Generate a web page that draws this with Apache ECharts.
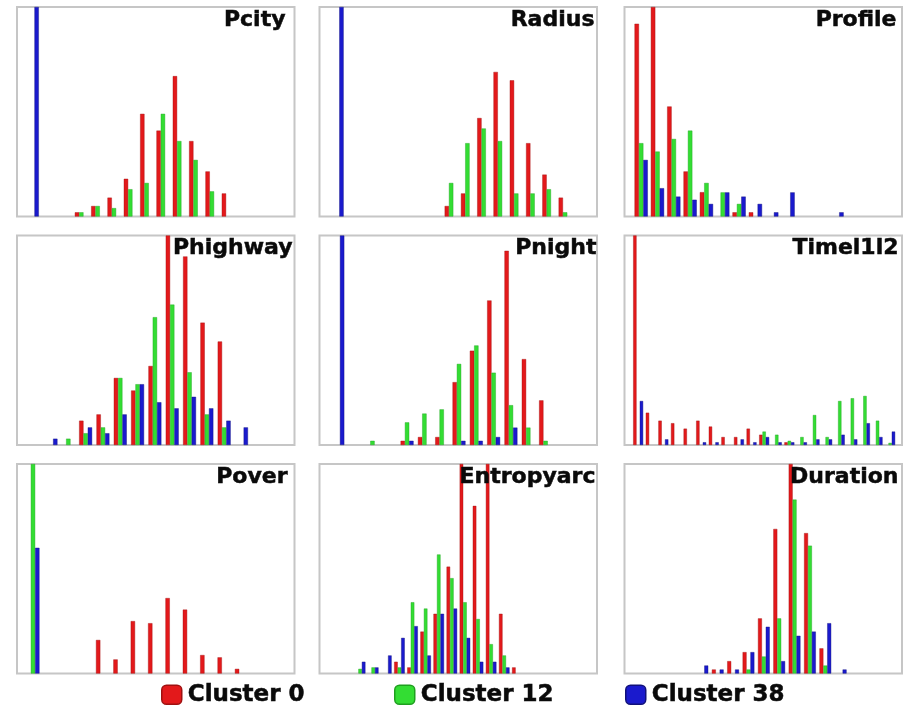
<!DOCTYPE html>
<html><head><meta charset="utf-8">
<script src="https://cdn.jsdelivr.net/npm/echarts@6/dist/echarts.min.js"></script>
<style>html,body{margin:0;padding:0;background:#fff}#c{width:904px;height:706px}</style>
</head><body><div id="c"></div>
<script>
// ---- data: bar heights (% of panel height) per histogram bin ----
const seriesNames = ['Cluster 0', 'Cluster 12', 'Cluster 38'];
const panelTitles = ['Pcity', 'Radius', 'Profile', 'Phighway', 'Pnight', 'Timel1l2', 'Pover', 'Entropyarc', 'Duration'];

const pcityC0  = [0, 0, 0, 2, 5, 9, 18, 49, 41, 67, 36, 21.5, 11];
const pcityC12 = [0, 0, 0, 2, 5, 4, 13, 16, 49, 36, 27, 12, 0];
const pcityC38 = [100, 0, 0, 0, 0, 0, 0, 0, 0, 0, 0, 0, 0];

const radiusC0  = [0, 0, 0, 0, 0, 0, 0, 5, 11, 47, 69, 65, 35, 20, 9];
const radiusC12 = [0, 0, 0, 0, 0, 0, 0, 16, 35, 42, 36, 11, 11, 13, 2];
const radiusC38 = [100, 0, 0, 0, 0, 0, 0, 0, 0, 0, 0, 0, 0, 0, 0];

const profileC0  = [92, 100, 52.5, 21.5, 11.6, 0, 2, 2, 0, 0, 0, 0, 0];
const profileC12 = [35, 31, 37, 41, 16, 11.5, 6, 0, 0, 0, 0, 0, 0];
const profileC38 = [27, 13.5, 9.5, 8, 6, 11.5, 9.5, 6, 2, 11.5, 0, 0, 2];

const phighwayC0  = [0, 0, 11.6, 14.6, 32, 26, 37.7, 100, 90, 58.4, 49.4, 0];
const phighwayC12 = [0, 3, 5.6, 8.4, 32, 29, 61, 67, 34.7, 14.6, 8.4, 0];
const phighwayC38 = [3, 0, 8.4, 5.6, 14.6, 29, 20.4, 17.5, 23, 17.5, 11.6, 8.4];

const pnightC0  = [0, 0, 0, 0, 2, 3.8, 3.8, 30, 45, 69, 92.7, 41, 21.3];
const pnightC12 = [0, 0, 2, 0, 10.8, 15, 17, 38.7, 47.5, 34.5, 19, 8.3, 2];
const pnightC38 = [100, 0, 0, 0, 2, 0, 0, 2, 2, 3.8, 8.3, 0, 0];

const timeC0  = [100, 15.4, 11.6, 10.4, 7.8, 11.6, 8.8, 3.8, 3.8, 7.8, 4.9, 0, 1.3, 0, 0, 0, 0, 0, 0, 0, 0];
const timeC12 = [0, 0, 0, 0, 0, 0, 0, 0, 0, 0, 6.4, 4.9, 2, 3.8, 14.3, 3.8, 21, 22.3, 23.4, 11.6, 1];
const timeC38 = [21, 0, 2.7, 0, 0, 1.3, 1.3, 0, 2.7, 1.3, 3.8, 1.3, 1.3, 1.3, 2.7, 2.7, 4.9, 2.7, 10.4, 3.8, 6.4];

const poverC0  = [0, 0, 0, 0, 16, 6.7, 25, 24, 36, 30.5, 8.8, 7.7, 2.2];
const poverC12 = [100, 0, 0, 0, 0, 0, 0, 0, 0, 0, 0, 0, 0];
const poverC38 = [60, 0, 0, 0, 0, 0, 0, 0, 0, 0, 0, 0, 0];

const entropyC0  = [0, 0, 0, 5.6, 2.9, 20, 28.5, 51, 100, 80, 100, 28.5, 2.9];
const entropyC12 = [2.2, 2.9, 0, 2.9, 34, 31, 56.8, 45.5, 34, 26, 14, 8.6, 0];
const entropyC38 = [5.6, 2.9, 8.6, 17, 22.6, 8.6, 28.5, 31, 17, 5.6, 5.6, 2.9, 0];

const durationC0  = [0, 1.9, 5.9, 10.2, 26.3, 69, 100, 67, 12, 0];
const durationC12 = [0, 0, 0, 1.9, 8.1, 26.3, 83, 61, 3.8, 0];
const durationC38 = [3.8, 1.9, 1.9, 10.2, 22.3, 5.9, 18, 20, 24, 1.9];

const panelData = [
  [pcityC0, pcityC12, pcityC38],
  [radiusC0, radiusC12, radiusC38],
  [profileC0, profileC12, profileC38],
  [phighwayC0, phighwayC12, phighwayC38],
  [pnightC0, pnightC12, pnightC38],
  [timeC0, timeC12, timeC38],
  [poverC0, poverC12, poverC38],
  [entropyC0, entropyC12, entropyC38],
  [durationC0, durationC12, durationC38]
];

// ---- layout / style ----
const colors = ['#e3191b', '#33dd33', '#1a1acd'];
const edges = ['#a01010', '#1f9f1f', '#10107a'];
const colLeft = [17, 319.5, 624.5];
const rowTop = [7, 235.5, 464];
const gw = 277.5, gh = 209.5;
// x-axis range (in bin units) and bar width for each panel
const axisLayout = [
  { min: -0.939, max: 16.06, bw: 4.3, right: 618 },
  { min: -1.085, max: 15.96, bw: 4.3, right: 309 },
  { min: -1.02,  max: 15.98, bw: 4.4, right: 7 },
  { min: -1.962, max: 14.06, bw: 4.3, right: 611 },
  { min: -1.058, max: 14.97, bw: 4.3, right: 307 },
  { min: -1.084, max: 20.94, bw: 3.3, right: 5 },
  { min: -0.921, max: 15.06, bw: 4.3, right: 616 },
  { min: -3.102, max: 18.08, bw: 3.5, right: 308 },
  { min: -5.068, max: 12.99, bw: 3.9, right: 5 }
];
const titleFont = { fontFamily: 'DejaVu Sans', fontWeight: 'bold', fontSize: 22, color: '#0a0a0a',
  textBorderColor: '#0a0a0a', textBorderWidth: 0.5 };

const grid = [], xAxis = [], yAxis = [], series = [], title = [];
panelData.forEach((sets, i) => {
  const r = Math.floor(i / 3), c = i % 3, L = axisLayout[i];
  grid.push({ left: colLeft[c], top: rowTop[r], width: gw, height: gh, show: true,
    borderColor: '#c6c6c6', borderWidth: 2, backgroundColor: '#fff' });
  xAxis.push({ type: 'value', gridIndex: i, min: L.min, max: L.max, show: false, splitLine: { show: false } });
  yAxis.push({ type: 'value', gridIndex: i, min: 0, max: 100, show: false, splitLine: { show: false } });
  sets.forEach((arr, s) => {
    const pts = [];
    arr.forEach((v, k) => { if (v > 0) pts.push([k, v]); });
    series.push({
      type: 'bar', name: seriesNames[s], xAxisIndex: i, yAxisIndex: i,
      barWidth: L.bw, barGap: '0%', clip: true,
      data: pts,
      itemStyle: { color: colors[s], borderColor: edges[s], borderWidth: 0.4 }
    });
  });
  title.push({ text: panelTitles[i], right: L.right, top: rowTop[r] + 2, padding: 0, textStyle: titleFont });
});

const legendLeft = [161, 394, 625];
const legend = seriesNames.map((n, s) => ({
  data: [{ name: n, itemStyle: { borderColor: edges[s], borderWidth: 1.5 } }],
  left: legendLeft[s], top: 683, padding: 0, itemWidth: 20, itemHeight: 19,
  selectedMode: false,
  textStyle: { fontFamily: 'DejaVu Sans', fontWeight: 'bold', fontSize: 23, color: '#0a0a0a',
    textBorderColor: '#0a0a0a', textBorderWidth: 0.5, padding: [0, 0, 0, 1] }
}));

const chart = echarts.init(document.getElementById('c'), null, { renderer: 'canvas' });
chart.setOption({
  animation: false,
  backgroundColor: '#fff',
  title, legend, grid, xAxis, yAxis, series
});
</script>
</body></html>
